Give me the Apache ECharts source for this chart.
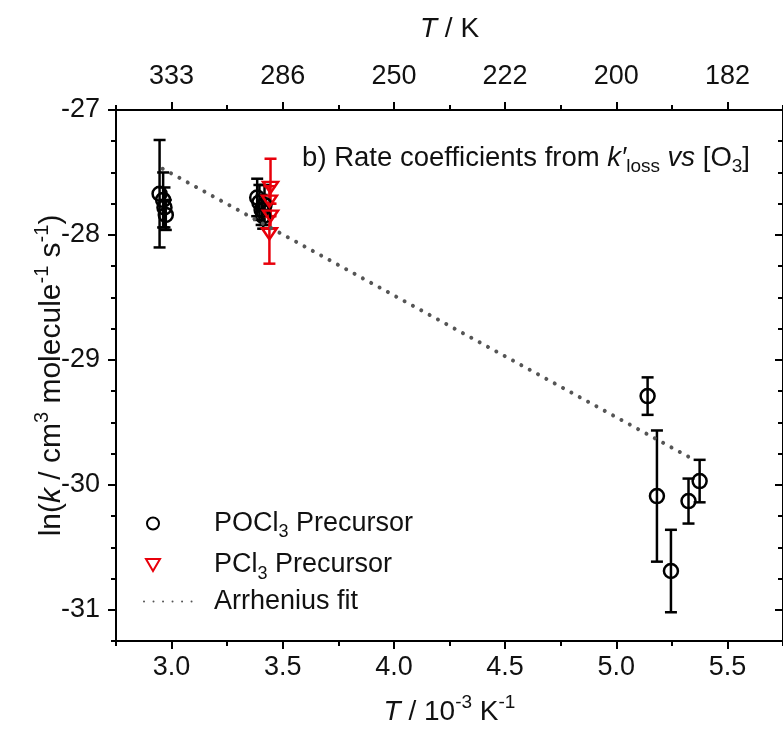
<!DOCTYPE html>
<html><head><meta charset="utf-8">
<script src="https://cdn.jsdelivr.net/npm/echarts@6/dist/echarts.min.js"></script>
<style>html,body{margin:0;padding:0;background:#fff}#c{width:783px;height:731px}</style>
</head><body><div id="c"></div>
<script>
// ---- data (x: 1000/T in 10^-3 K^-1, y: ln k) ----
const pocl3X   = [2.946, 2.962, 2.968, 2.974, 3.385, 3.395, 3.405, 3.412, 3.418, 5.141, 5.183, 5.246, 5.325, 5.375];
const pocl3Y   = [-27.67, -27.72, -27.78, -27.84, -27.70, -27.74, -27.80, -27.85, -27.76, -29.29, -30.09, -30.69, -30.13, -29.97];
const pocl3Err = [0.43, 0.22, 0.16, 0.12, 0.15, 0.14, 0.12, 0.10, 0.16, 0.15, 0.525, 0.33, 0.18, 0.17];
const pcl3X    = [3.445, 3.440, 3.445, 3.440];
const pcl3Y    = [-27.62, -27.73, -27.85, -27.99];
const pcl3Err  = [0.23, 0.12, 0.10, 0.24];
const fitX = [2.96, 5.34];
const fitY = [-27.47, -29.79];
const xMajorTicks = [3.0, 3.5, 4.0, 4.5, 5.0, 5.5];
const xMinorTicks = [2.75, 3.25, 3.75, 4.25, 4.75, 5.25, 5.75];
const yMajorTicks = [-31, -30, -29, -28, -27];
const yMinorTicks = [-31.25, -30.75, -30.5, -30.25, -29.75, -29.5, -29.25, -28.75, -28.5, -28.25, -27.75, -27.5, -27.25];

const FONT = '"Liberation Sans", Arial, sans-serif';
const zip3 = (a, b, c) => a.map((v, i) => [v, b[i], c[i]]);
const DOWN_TRI = 'path://M0,0 L14,0 L7,12 Z';

function errItem(color) {
  return function (params, api) {
    const x = api.value(0), y = api.value(1), e = api.value(2);
    const t = api.coord([x, y + e]), b = api.coord([x, y - e]);
    const hw = 6;
    const style = { stroke: color, lineWidth: 2.5, fill: null };
    return { type: 'group', children: [
      { type: 'line', shape: { x1: t[0], y1: t[1], x2: b[0], y2: b[1] }, style },
      { type: 'line', shape: { x1: t[0] - hw, y1: t[1], x2: t[0] + hw, y2: t[1] }, style },
      { type: 'line', shape: { x1: b[0] - hw, y1: b[1], x2: b[0] + hw, y2: b[1] }, style }
    ]};
  };
}

const gridBox = { left: 116, top: 110, width: 672, height: 531 };
const axisLine = { show: true, onZero: false, lineStyle: { color: '#000', width: 2 } };
const noLine = { show: false };
const lblStyle = { fontFamily: FONT, fontSize: 27, color: '#111' };
function rich(fs, lh) {
  return {
    n: { fontFamily: FONT, fontSize: fs, color: '#111', lineHeight: lh },
    i: { fontFamily: FONT, fontSize: fs, color: '#111', fontStyle: 'italic', lineHeight: lh },
    sup: { fontFamily: FONT, fontSize: Math.round(fs * 0.68), color: '#111', verticalAlign: 'top', lineHeight: Math.round(fs * 0.68) },
    sub: { fontFamily: FONT, fontSize: Math.round(fs * 0.68), color: '#111', verticalAlign: 'bottom', lineHeight: Math.round(fs * 0.68) }
  };
}
const richName = rich(28, 38);
const richYName = rich(30, 40);
const richLeg = rich(27, 36);

const option = {
  animation: false,
  backgroundColor: '#fff',
  grid: [Object.assign({}, gridBox), Object.assign({}, gridBox)],
  title: {
    text: '{n|b) Rate coefficients from }{i|k′}{sub|loss}{n| }{i|vs}{n| [O}{sub|3}{n|]}',
    right: 28, top: 135,
    textStyle: { fontWeight: 'normal', rich: rich(27.5, 36) }
  },
  legend: [
    {
      orient: 'vertical', left: 145, top: 510, padding: 0, itemWidth: 14, itemHeight: 12, itemGap: 10,
      data: ['POCl3 Precursor', 'PCl3 Precursor'],
      formatter: function (name) {
        return name === 'POCl3 Precursor'
          ? '{sp| }{n|POCl}{sub|3}{n| Precursor}'
          : '{sp| }{n|PCl}{sub|3}{n| Precursor}';
      },
      textStyle: { rich: Object.assign({ sp: { width: 49, fontSize: 10 } }, richLeg) },
      selectedMode: false
    },
    {
      orient: 'vertical', left: 143, top: 588, padding: 0, itemWidth: 57, itemHeight: 10,
      data: ['Arrhenius fit'],
      formatter: function () { return '{sp| }{n|Arrhenius fit}'; },
      itemStyle: { opacity: 0 },
      textStyle: { rich: Object.assign({ sp: { width: 8, fontSize: 10 } }, richLeg) },
      selectedMode: false
    }
  ],
  xAxis: [
    { type: 'value', gridIndex: 0, position: 'bottom', min: 2.75, max: 5.75,
      axisLine: axisLine, splitLine: { show: false },
      axisTick: { show: true, length: 8, lineStyle: { color: '#000', width: 2 }, customValues: xMajorTicks },
      axisLabel: Object.assign({ margin: 13, customValues: xMajorTicks, formatter: v => v.toFixed(1) }, lblStyle),
      name: '{i|T}{n| / 10}{sup|-3}{n| K}{sup|-1}', nameLocation: 'middle', nameGap: 52,
      nameTextStyle: { rich: richName }
    },
    { type: 'value', gridIndex: 0, position: 'top', min: 2.75, max: 5.75,
      axisLine: axisLine, splitLine: { show: false },
      axisTick: { show: true, length: 8, lineStyle: { color: '#000', width: 2 }, customValues: xMajorTicks },
      axisLabel: Object.assign({ margin: 20, customValues: xMajorTicks, formatter: v => String(Math.round(1000 / v)) }, lblStyle),
      name: '{i|T}{n| / K}', nameLocation: 'middle', nameGap: 62,
      nameTextStyle: { rich: richName }
    },
    { type: 'value', gridIndex: 1, position: 'bottom', min: 2.75, max: 5.75,
      axisLine: noLine, splitLine: { show: false }, axisLabel: { show: false },
      axisTick: { show: true, length: 5, lineStyle: { color: '#000', width: 2 }, customValues: xMinorTicks } },
    { type: 'value', gridIndex: 1, position: 'top', min: 2.75, max: 5.75,
      axisLine: noLine, splitLine: { show: false }, axisLabel: { show: false },
      axisTick: { show: true, length: 5, lineStyle: { color: '#000', width: 2 }, customValues: xMinorTicks } }
  ],
  yAxis: [
    { type: 'value', gridIndex: 0, position: 'left', min: -31.25, max: -27,
      axisLine: axisLine, splitLine: { show: false },
      axisTick: { show: true, length: 8, lineStyle: { color: '#000', width: 2 }, customValues: yMajorTicks },
      axisLabel: Object.assign({ margin: 16, customValues: yMajorTicks, formatter: v => String(v) }, lblStyle),
      name: '{n|ln(}{i|k}{n| / cm}{sup|3}{n| molecule}{sup|-1}{n| s}{sup|-1}{n|)}',
      nameLocation: 'middle', nameRotate: 90, nameGap: 44, nameMoveOverlap: false,
      nameTextStyle: { rich: richYName }
    },
    { type: 'value', gridIndex: 0, position: 'right', min: -31.25, max: -27,
      axisLine: axisLine, splitLine: { show: false }, axisLabel: { show: false },
      axisTick: { show: true, inside: true, length: 8, lineStyle: { color: '#000', width: 2 }, customValues: yMajorTicks } },
    { type: 'value', gridIndex: 1, position: 'left', min: -31.25, max: -27,
      axisLine: noLine, splitLine: { show: false }, axisLabel: { show: false },
      axisTick: { show: true, length: 5, lineStyle: { color: '#000', width: 2 }, customValues: yMinorTicks } },
    { type: 'value', gridIndex: 1, position: 'right', min: -31.25, max: -27,
      axisLine: noLine, splitLine: { show: false }, axisLabel: { show: false },
      axisTick: { show: true, inside: true, length: 5, lineStyle: { color: '#000', width: 2 }, customValues: yMinorTicks } }
  ],
  series: [
    { name: 'Arrhenius fit', type: 'line', xAxisIndex: 0, yAxisIndex: 0,
      data: fitX.map((v, i) => [v, fitY[i]]), symbol: 'none', silent: true,
      lineStyle: { color: '#555', width: 4, type: [0.01, 9.5], cap: 'round' },
      itemStyle: { color: '#555' } },
    { name: 'POCl3 err', type: 'custom', xAxisIndex: 0, yAxisIndex: 0,
      data: zip3(pocl3X, pocl3Y, pocl3Err), renderItem: errItem('#000'), silent: true },
    { name: 'POCl3 Precursor', type: 'scatter', xAxisIndex: 0, yAxisIndex: 0,
      data: pocl3X.map((v, i) => [v, pocl3Y[i]]), symbol: 'circle', symbolSize: 14,
      itemStyle: { color: 'rgba(255,255,255,0)', borderColor: '#000', borderWidth: 2.5, opacity: 1 } },
    { name: 'PCl3 err', type: 'custom', xAxisIndex: 0, yAxisIndex: 0,
      data: zip3(pcl3X, pcl3Y, pcl3Err), renderItem: errItem('#e8000b'), silent: true },
    { name: 'PCl3 Precursor', type: 'scatter', xAxisIndex: 0, yAxisIndex: 0,
      data: pcl3X.map((v, i) => [v, pcl3Y[i]]), symbol: DOWN_TRI, symbolSize: [15, 13], symbolKeepAspect: true,
      itemStyle: { color: 'rgba(255,255,255,0)', borderColor: '#e8000b', borderWidth: 2.5, opacity: 1 } }
  ]
};
const chart = echarts.init(document.getElementById('c'), null, { renderer: 'canvas' });
chart.setOption(option);
</script>
</body></html>
